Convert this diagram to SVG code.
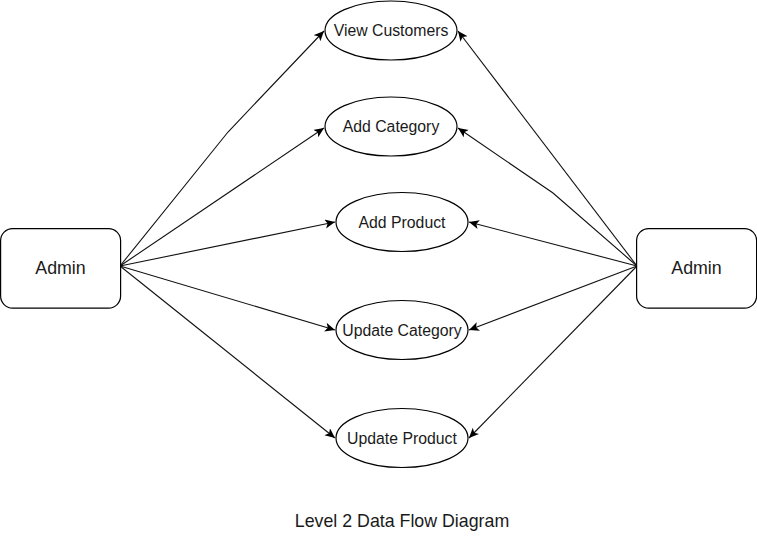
<svg xmlns="http://www.w3.org/2000/svg" width="757" height="553" viewBox="0 0 757 553">
<style>
.box{fill:#fff;stroke:#000;stroke-width:1.2}
.lbl{font-family:"Liberation Sans",Arial,sans-serif;fill:#1a1a1a;text-anchor:middle;dominant-baseline:central}
.big{font-size:17.8px}
.sm{font-size:15.8px}
.edge{fill:none;stroke:#111;stroke-width:1.1;marker-end:url(#arr)}
</style>
<defs>
<marker id="arr" markerUnits="userSpaceOnUse" markerWidth="12" markerHeight="10" refX="10" refY="4.5" orient="auto">
<path d="M0,0 L10,4.5 L0,9 L2.5,4.5 Z" fill="#000"/>
</marker>
</defs>
<rect width="757" height="553" fill="#fff"/>
<g id="connectors">
<polyline class="edge" points="120,266 228,132 324,31"/>
<line class="edge" x1="120" y1="266" x2="324" y2="128"/>
<line class="edge" x1="120" y1="266" x2="335" y2="222"/>
<line class="edge" x1="120" y1="266" x2="335" y2="330"/>
<line class="edge" x1="120" y1="266" x2="335" y2="438"/>
<line class="edge" x1="637" y1="266" x2="458" y2="31"/>
<polyline class="edge" points="637,266 553,193 458,128"/>
<line class="edge" x1="637" y1="266" x2="469" y2="222"/>
<line class="edge" x1="637" y1="266" x2="469" y2="330"/>
<line class="edge" x1="637" y1="266" x2="469" y2="438"/>
</g>
<g id="admin-left">
<rect class="box" x="0.6" y="228.6" width="120" height="79.5" rx="12"/>
<text class="lbl big" x="60.5" y="268">Admin</text>
</g>
<g id="admin-right">
<rect class="box" x="636.6" y="228.6" width="120" height="79.5" rx="12"/>
<text class="lbl big" x="696.5" y="268">Admin</text>
</g>
<g id="view-customers">
<ellipse class="box" cx="391" cy="30.5" rx="66" ry="29.5"/>
<text class="lbl sm" x="391" y="30">View Customers</text>
</g>
<g id="add-category">
<ellipse class="box" cx="391" cy="126.5" rx="66" ry="29.5"/>
<text class="lbl sm" x="391" y="126">Add Category</text>
</g>
<g id="add-product">
<ellipse class="box" cx="402" cy="222" rx="66" ry="29.5"/>
<text class="lbl sm" x="402" y="222">Add Product</text>
</g>
<g id="update-category">
<ellipse class="box" cx="402" cy="330" rx="66" ry="29.5"/>
<text class="lbl sm" x="402" y="330">Update Category</text>
</g>
<g id="update-product">
<ellipse class="box" cx="402" cy="438" rx="66" ry="29.5"/>
<text class="lbl sm" x="402" y="438">Update Product</text>
</g>
<g id="title">
<text class="lbl big" x="402" y="521">Level 2 Data Flow Diagram</text>
</g>
</svg>
